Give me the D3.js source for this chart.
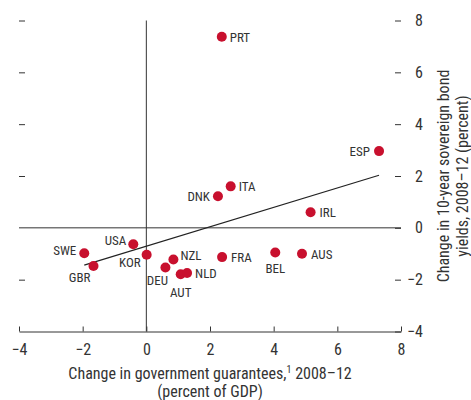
<!DOCTYPE html>
<html>
<head>
<meta charset="utf-8">
<script src="https://cdn.jsdelivr.net/npm/d3@7"></script>
<style>
  body { margin: 0; background: #fff; }
  svg text { font-family: "Liberation Sans Narrow", "Arial Narrow", "Roboto Condensed", sans-serif; fill: #333; }
</style>
</head>
<body>
<div id="chart"></div>
<script>
"use strict";

// countries, x = change in guarantees (% GDP), y = change in 10y yields (pct)
var countries = ["PRT", "ESP", "ITA", "DNK", "IRL", "USA", "SWE", "GBR", "KOR", "DEU", "NZL", "AUT", "NLD", "FRA", "BEL", "AUS"];
var guarantees = [2.37, 7.31, 2.65, 2.25, 5.16, -0.41, -1.95, -1.66, 0.01, 0.60, 0.85, 1.08, 1.28, 2.38, 4.05, 4.89];
var yieldChange = [7.37, 2.96, 1.60, 1.22, 0.60, -0.63, -0.98, -1.47, -1.04, -1.53, -1.22, -1.79, -1.74, -1.13, -0.95, -1.00];

// fitted line end points
var trendX = [-1.95, 7.31];
var trendY = [-1.44, 2.03];

var xTicks = [-4, -2, 0, 2, 4, 6, 8];
var yTicks = [-4, -2, 0, 2, 4, 6, 8];

// label placement: anchor and offsets from the dot
var labelPos = {
  PRT: ["start", 8, 5], ESP: ["end", -9, 5], ITA: ["start", 8, 5], DNK: ["end", -8, 5],
  IRL: ["start", 9, 5], USA: ["end", -7, 1], SWE: ["end", -8, 2], GBR: ["end", -3, 16],
  KOR: ["end", -6, 12], DEU: ["middle", -8, 18], NZL: ["start", 7, 1], AUT: ["middle", 0, 23],
  NLD: ["start", 8, 5], FRA: ["start", 9, 5], BEL: ["middle", 0, 21], AUS: ["start", 9, 5]
};

var width = 471, height = 400;
var svg = d3.select("#chart").append("svg")
  .attr("width", width)
  .attr("height", height);

var x = d3.scaleLinear().domain([-4, 8]).range([19, 401]);
var y = d3.scaleLinear().domain([-4, 8]).range([331.5, 20.5]);

var ink = "#333";

// left ticks (no labels)
var left = svg.append("g")
  .attr("transform", "translate(" + x(-4) + ",0)")
  .call(d3.axisLeft(y).tickValues(yTicks.filter(function(d){ return d > 0 || d === -2; }))
    .tickSize(-6).tickFormat(""));
left.select(".domain").remove();
left.selectAll("line").attr("stroke", ink);

// right axis
var right = svg.append("g")
  .attr("transform", "translate(" + x(8) + ",0)")
  .call(d3.axisRight(y).tickValues(yTicks).tickSize(-6).tickSizeOuter(0));
right.select(".domain").remove();
right.selectAll("line").attr("stroke", ink);
right.selectAll("text")
  .attr("x", 22)
  .attr("text-anchor", "end")
  .attr("font-size", 16)
  .style("font-family", null);

// bottom axis
var bottom = svg.append("g")
  .attr("transform", "translate(0," + y(-4) + ")")
  .call(d3.axisBottom(x).tickValues(xTicks).tickSize(-5).tickSizeOuter(0).tickPadding(12));
bottom.select(".domain").attr("stroke", ink);
bottom.selectAll("line").attr("stroke", ink);
bottom.selectAll("text")
  .attr("font-size", 16)
  .style("font-family", null);

// zero lines
svg.append("line")
  .attr("x1", x(-4)).attr("x2", x(8))
  .attr("y1", y(0)).attr("y2", y(0))
  .attr("stroke", ink).attr("stroke-width", 1);
svg.append("line")
  .attr("x1", x(0)).attr("x2", x(0))
  .attr("y1", y(8)).attr("y2", y(-4))
  .attr("stroke", ink).attr("stroke-width", 1);

// trend line
svg.append("line")
  .attr("x1", x(trendX[0])).attr("y1", y(trendY[0]))
  .attr("x2", x(trendX[1])).attr("y2", y(trendY[1]))
  .attr("stroke", "#222").attr("stroke-width", 1.2);

// points
var pts = countries.map(function(c, i){ return {name: c, gx: guarantees[i], yc: yieldChange[i]}; });

svg.append("g").selectAll("circle")
  .data(pts).enter().append("circle")
  .attr("cx", function(d){ return x(d.gx); })
  .attr("cy", function(d){ return y(d.yc); })
  .attr("r", 5)
  .attr("fill", "#c8102e");

svg.append("g").selectAll("text")
  .data(pts).enter().append("text")
  .attr("x", function(d){ return x(d.gx) + labelPos[d.name][1]; })
  .attr("y", function(d){ return y(d.yc) + labelPos[d.name][2]; })
  .attr("text-anchor", function(d){ return labelPos[d.name][0]; })
  .attr("font-size", 13)
  .text(function(d){ return d.name; });

// axis titles
var xt = svg.append("text")
  .attr("x", 210).attr("y", 379)
  .attr("text-anchor", "middle")
  .attr("font-size", 16);
xt.append("tspan").text("Change in government guarantees,");
xt.append("tspan").attr("font-size", 10).attr("dy", -6).text("1");
xt.append("tspan").attr("dy", 6).text(" 2008\u201312");
svg.append("text")
  .attr("x", 210).attr("y", 397)
  .attr("text-anchor", "middle")
  .attr("font-size", 16)
  .text("(percent of GDP)");

var yt = svg.append("text")
  .attr("transform", "translate(449,176) rotate(-90)")
  .attr("text-anchor", "middle")
  .attr("font-size", 16);
yt.append("tspan").attr("x", 0).attr("y", 0).text("Change in 10-year sovereign bond");
yt.append("tspan").attr("x", 0).attr("y", 19).text("yields, 2008\u201312 (percent)");
</script>
</body>
</html>
